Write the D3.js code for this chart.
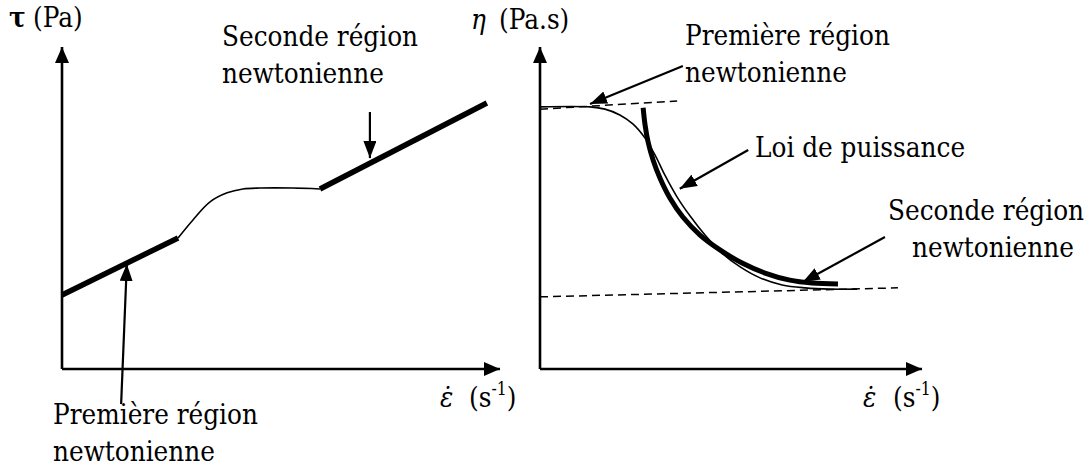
<!DOCTYPE html>
<html>
<head>
<meta charset="utf-8">
<script src="https://cdn.jsdelivr.net/npm/d3@7"></script>
<style>
  html, body { margin: 0; padding: 0; background: #fff; }
  svg { display: block; }
</style>
</head>
<body>
<svg id="chart" width="1086" height="466"></svg>
<script>
// ---- Data (arbitrary units: 0..100 along each axis) ----
// Left panel: shear stress tau vs shear rate
const stressLowNewtonian = [[0, 23.0], [26.5, 40.7]];
const stressTransition = [[26.5, 40.7], [29.9, 46.3], [33.8, 51.9], [37.7, 54.7], [41.3, 55.9], [45.2, 56.2], [52.7, 56.2], [58.9, 55.9]];
const stressHighNewtonian = [[58.9, 55.9], [97.0, 82.6]];

// Right panel: viscosity eta vs shear rate
const viscosityCurve = [[0, 81.4], [13.1, 81.4], [17.0, 80.7], [20.9, 78.9], [24.3, 76.1], [27.5, 71.7], [30.1, 66.5], [32.7, 60.2], [35.9, 53.4], [39.3, 47.5], [43.2, 41.6], [47.6, 36.0], [52.4, 31.7], [57.6, 28.3], [63.4, 26.1], [69.4, 25.2], [75.9, 24.8], [83.0, 24.8]];
const powerLawCurve = [[27.0, 81.1], [27.5, 75.8], [28.3, 70.5], [29.6, 64.9], [31.4, 59.3], [34.0, 53.1], [37.4, 47.2], [41.9, 41.6], [47.1, 37.0], [52.9, 32.9], [58.9, 29.8], [65.4, 27.6], [71.2, 26.7], [78.0, 26.4]];
const eta0Asymptote = [[0, 80.7], [35.9, 83.2]];
const etaInfAsymptote = [[0, 22.4], [93.7, 25.2]];

// Annotation arrows: [from, to] in data units
const leftArrows = [
  [[70.3, 79.8], [70.3, 65.5]],
  [[13.5, -10.9], [14.8, 32.6]]
];
const rightArrows = [
  [[37.4, 94.1], [13.1, 82.3]],
  [[54.5, 68.0], [36.6, 56.0]],
  [[90.3, 41.0], [68.8, 27.0]]
];

// Text labels
const leftLabels = [
  { lines: ["Seconde région", "newtonienne"], x: 222, y: 46, dx: [0, 0] },
  { lines: ["Première région", "newtonienne"], x: 53, y: 424, dx: [0, 0] }
];
const rightLabels = [
  { lines: ["Première région", "newtonienne"], x: 685, y: 45, dx: [0, 0] },
  { lines: ["Loi de puissance"], x: 755, y: 157, dx: [0] },
  { lines: ["Seconde région", "newtonienne"], x: 888, y: 220, dx: [0, 24] }
];

const SERIF = "'DejaVu Serif', serif";
const svg = d3.select("#chart").attr("font-family", SERIF);
const FONT = 28.5;
const SQUEEZE = 0.87; // horizontal condensing of the serif face

// Arrowhead markers
const defs = svg.append("defs");
function marker(id, len, wid) {
  defs.append("marker")
    .attr("id", id)
    .attr("markerUnits", "userSpaceOnUse")
    .attr("viewBox", `0 ${-wid / 2} ${len} ${wid}`)
    .attr("refX", len).attr("refY", 0)
    .attr("markerWidth", len).attr("markerHeight", wid)
    .attr("orient", "auto")
    .append("path")
    .attr("d", `M0,${-wid / 2}L${len},0L0,${wid / 2}Z`)
    .attr("fill", "#000");
}
marker("axisHead", 16, 14);
marker("noteHead", 17, 13);

function panel(opts) {
  const x = d3.scaleLinear().domain([0, 100]).range([opts.left, opts.right]);
  const y = d3.scaleLinear().domain([0, 100]).range([opts.bottom, opts.top]);
  const g = svg.append("g");
  const line = d3.line().x(d => x(d[0])).y(d => y(d[1]));
  const smooth = d3.line().x(d => x(d[0])).y(d => y(d[1])).curve(d3.curveCatmullRom.alpha(0.5));

  // axes with arrowheads
  g.append("path").attr("d", line([[0, 0], [0, 100]]))
    .attr("stroke", "#000").attr("stroke-width", 2.6).attr("fill", "none")
    .attr("marker-end", "url(#axisHead)");
  g.append("path").attr("d", line([[0, 0], [100, 0]]))
    .attr("stroke", "#000").attr("stroke-width", 2.6).attr("fill", "none")
    .attr("marker-end", "url(#axisHead)");
  return { x, y, g, line, smooth };
}

function drawArrows(p, arrows) {
  arrows.forEach(a => {
    p.g.append("path").attr("d", p.line(a))
      .attr("stroke", "#000").attr("stroke-width", 2.2).attr("fill", "none")
      .attr("marker-end", "url(#noteHead)");
  });
}

// text anchored at (x, y), condensed horizontally about its start point
function txt(g, x, y) {
  return g.append("text").attr("x", 0).attr("y", 0)
    .attr("transform", `translate(${x},${y}) scale(${SQUEEZE},1)`)
    .attr("font-family", SERIF).attr("font-size", FONT).attr("fill", "#000");
}

function drawLabels(g, labels) {
  labels.forEach(l => {
    l.lines.forEach((t, i) => {
      txt(g, l.x + l.dx[i], l.y + i * 37).text(t);
    });
  });
}

// shear-rate label: dotted epsilon, then (s^-1)
function rateLabel(g, xEps, xParen, yBase) {
  txt(g, xEps, yBase).attr("font-style", "italic").text("ε\u0307");
  const t = txt(g, xParen, yBase);
  t.append("tspan").text("(s");
  t.append("tspan").attr("dy", -12).attr("font-size", 18).text("-1");
  t.append("tspan").attr("dy", 12).text(")");
}

// ---- Left panel: tau ----
const L = panel({ left: 62, right: 500, bottom: 369, top: 47 });
L.g.append("path").attr("d", L.line(stressLowNewtonian))
  .attr("stroke", "#000").attr("stroke-width", 5.5).attr("fill", "none");
L.g.append("path").attr("d", L.smooth(stressTransition))
  .attr("stroke", "#000").attr("stroke-width", 1.6).attr("fill", "none");
L.g.append("path").attr("d", L.line(stressHighNewtonian))
  .attr("stroke", "#000").attr("stroke-width", 5.5).attr("fill", "none");
drawArrows(L, leftArrows);
drawLabels(L.g, leftLabels);
txt(L.g, 9, 27).attr("font-weight", "bold").text("τ");
txt(L.g, 33, 27).text("(Pa)");
rateLabel(L.g, 440, 469, 407);

// ---- Right panel: eta ----
const R = panel({ left: 540, right: 922, bottom: 369, top: 47 });
[eta0Asymptote, etaInfAsymptote].forEach(d => {
  R.g.append("path").attr("d", R.line(d))
    .attr("stroke", "#000").attr("stroke-width", 1.5)
    .attr("stroke-dasharray", "8,5").attr("fill", "none");
});
R.g.append("path").attr("d", R.smooth(viscosityCurve))
  .attr("stroke", "#000").attr("stroke-width", 1.6).attr("fill", "none");
R.g.append("path").attr("d", R.smooth(powerLawCurve))
  .attr("stroke", "#000").attr("stroke-width", 5).attr("fill", "none");
drawArrows(R, rightArrows);
drawLabels(R.g, rightLabels);
txt(R.g, 471, 29).attr("font-style", "italic").text("η");
txt(R.g, 499, 29).text("(Pa.s)");
rateLabel(R.g, 863, 893, 407);
</script>
</body>
</html>
